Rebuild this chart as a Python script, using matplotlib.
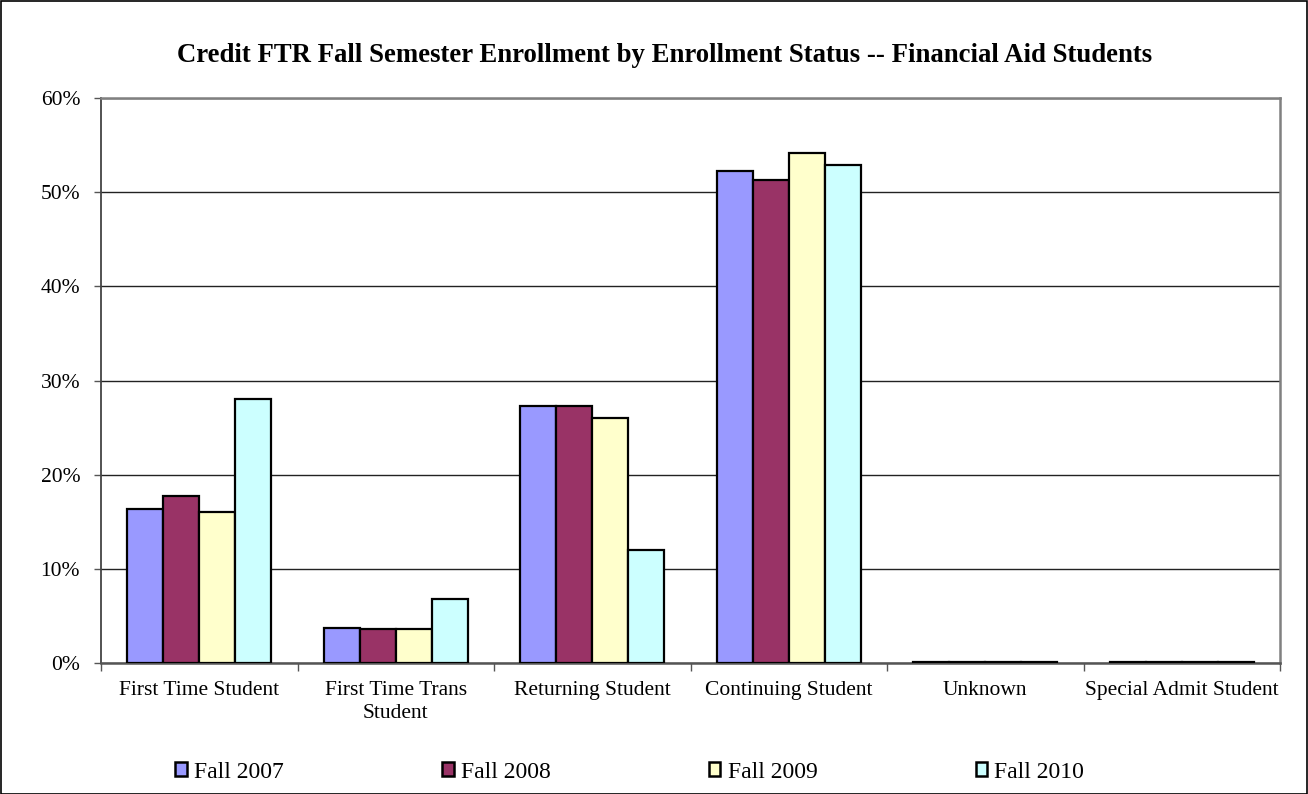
import matplotlib
matplotlib.use("Agg")
import matplotlib.pyplot as plt
import numpy as np
from matplotlib.patches import Rectangle

categories = ["First Time Student", "First Time Trans\nStudent", "Returning Student",
              "Continuing Student", "Unknown", "Special Admit Student"]
series_names = ["Fall 2007", "Fall 2008", "Fall 2009", "Fall 2010"]
fall_2007 = [16.4, 3.7, 27.3, 52.2, 0.1, 0.1]
fall_2008 = [17.7, 3.6, 27.3, 51.3, 0.1, 0.1]
fall_2009 = [16.0, 3.6, 26.0, 54.2, 0.1, 0.1]
fall_2010 = [28.0, 6.8, 12.0, 52.9, 0.1, 0.1]
colors = ["#9999FF", "#993366", "#FFFFCC", "#CCFFFF"]
yticks = [0, 10, 20, 30, 40, 50, 60]
ytick_labels = ["0%", "10%", "20%", "30%", "40%", "50%", "60%"]

plt.rcParams['font.family'] = ['Liberation Serif', 'DejaVu Serif']

W, H = 1308, 794
fig = plt.figure(figsize=(W / 100, H / 100), dpi=100)
L, R, T, B = 101, 1280, 98, 663
ax = fig.add_axes([L / W, 1 - B / H, (R - L) / W, (B - T) / H])

# outer chart border
fig.patches.append(Rectangle((0.5 / W, 0.5 / H), 1 - 1.5 / W, 1 - 1.5 / H,
                             transform=fig.transFigure, fill=False,
                             edgecolor="black", linewidth=1.2))

data = [fall_2007, fall_2008, fall_2009, fall_2010]
x = np.arange(len(categories))
gw = 0.732
bw = gw / 4
for i, (vals, c, name) in enumerate(zip(data, colors, series_names)):
    ax.bar(x - gw / 2 + bw * (i + 0.5), vals, width=bw, color=c,
           edgecolor="black", linewidth=1.6, label=name, zorder=3)

ax.set_xlim(-0.5, len(categories) - 0.5)
ax.set_ylim(0, 60)
ax.set_yticks(yticks)
ax.set_yticklabels(ytick_labels, fontsize=15.5)
ax.yaxis.grid(True, color="#222222", linewidth=1, zorder=0)
ax.set_xticks(x)
ax.set_xticklabels(categories, fontsize=15.5, linespacing=1.25)
ax.tick_params(axis="x", length=0, pad=13)
ax.set_xticks(np.arange(len(categories) + 1) - 0.5, minor=True)
ax.tick_params(axis="x", which="minor", length=6, color="#555555", width=1)
ax.tick_params(axis="y", length=5, color="#555555", width=1, pad=10)
for s in ax.spines.values():
    s.set_color("#808080")
    s.set_linewidth(1.8)
ax.spines["bottom"].set_color("#555555")
ax.spines["left"].set_color("#444444")
ax.spines["left"].set_linewidth(1.3)

fig.text(665 / W, 1 - 55 / H,
         "Credit FTR Fall Semester Enrollment by Enrollment Status -- Financial Aid Students",
         ha="center", va="center", fontsize=19.3, fontweight="bold")

leg = fig.legend(loc="center left", bbox_to_anchor=(175 / W, 1 - 772 / H), ncol=4,
                 frameon=False, fontsize=17, handlelength=0.5, handleheight=0.5,
                 handletextpad=0.3, columnspacing=6.7, borderpad=0, borderaxespad=0)
for h in leg.legend_handles:
    h.set_linewidth(1.8)

fig.savefig("out.png", dpi=100)
